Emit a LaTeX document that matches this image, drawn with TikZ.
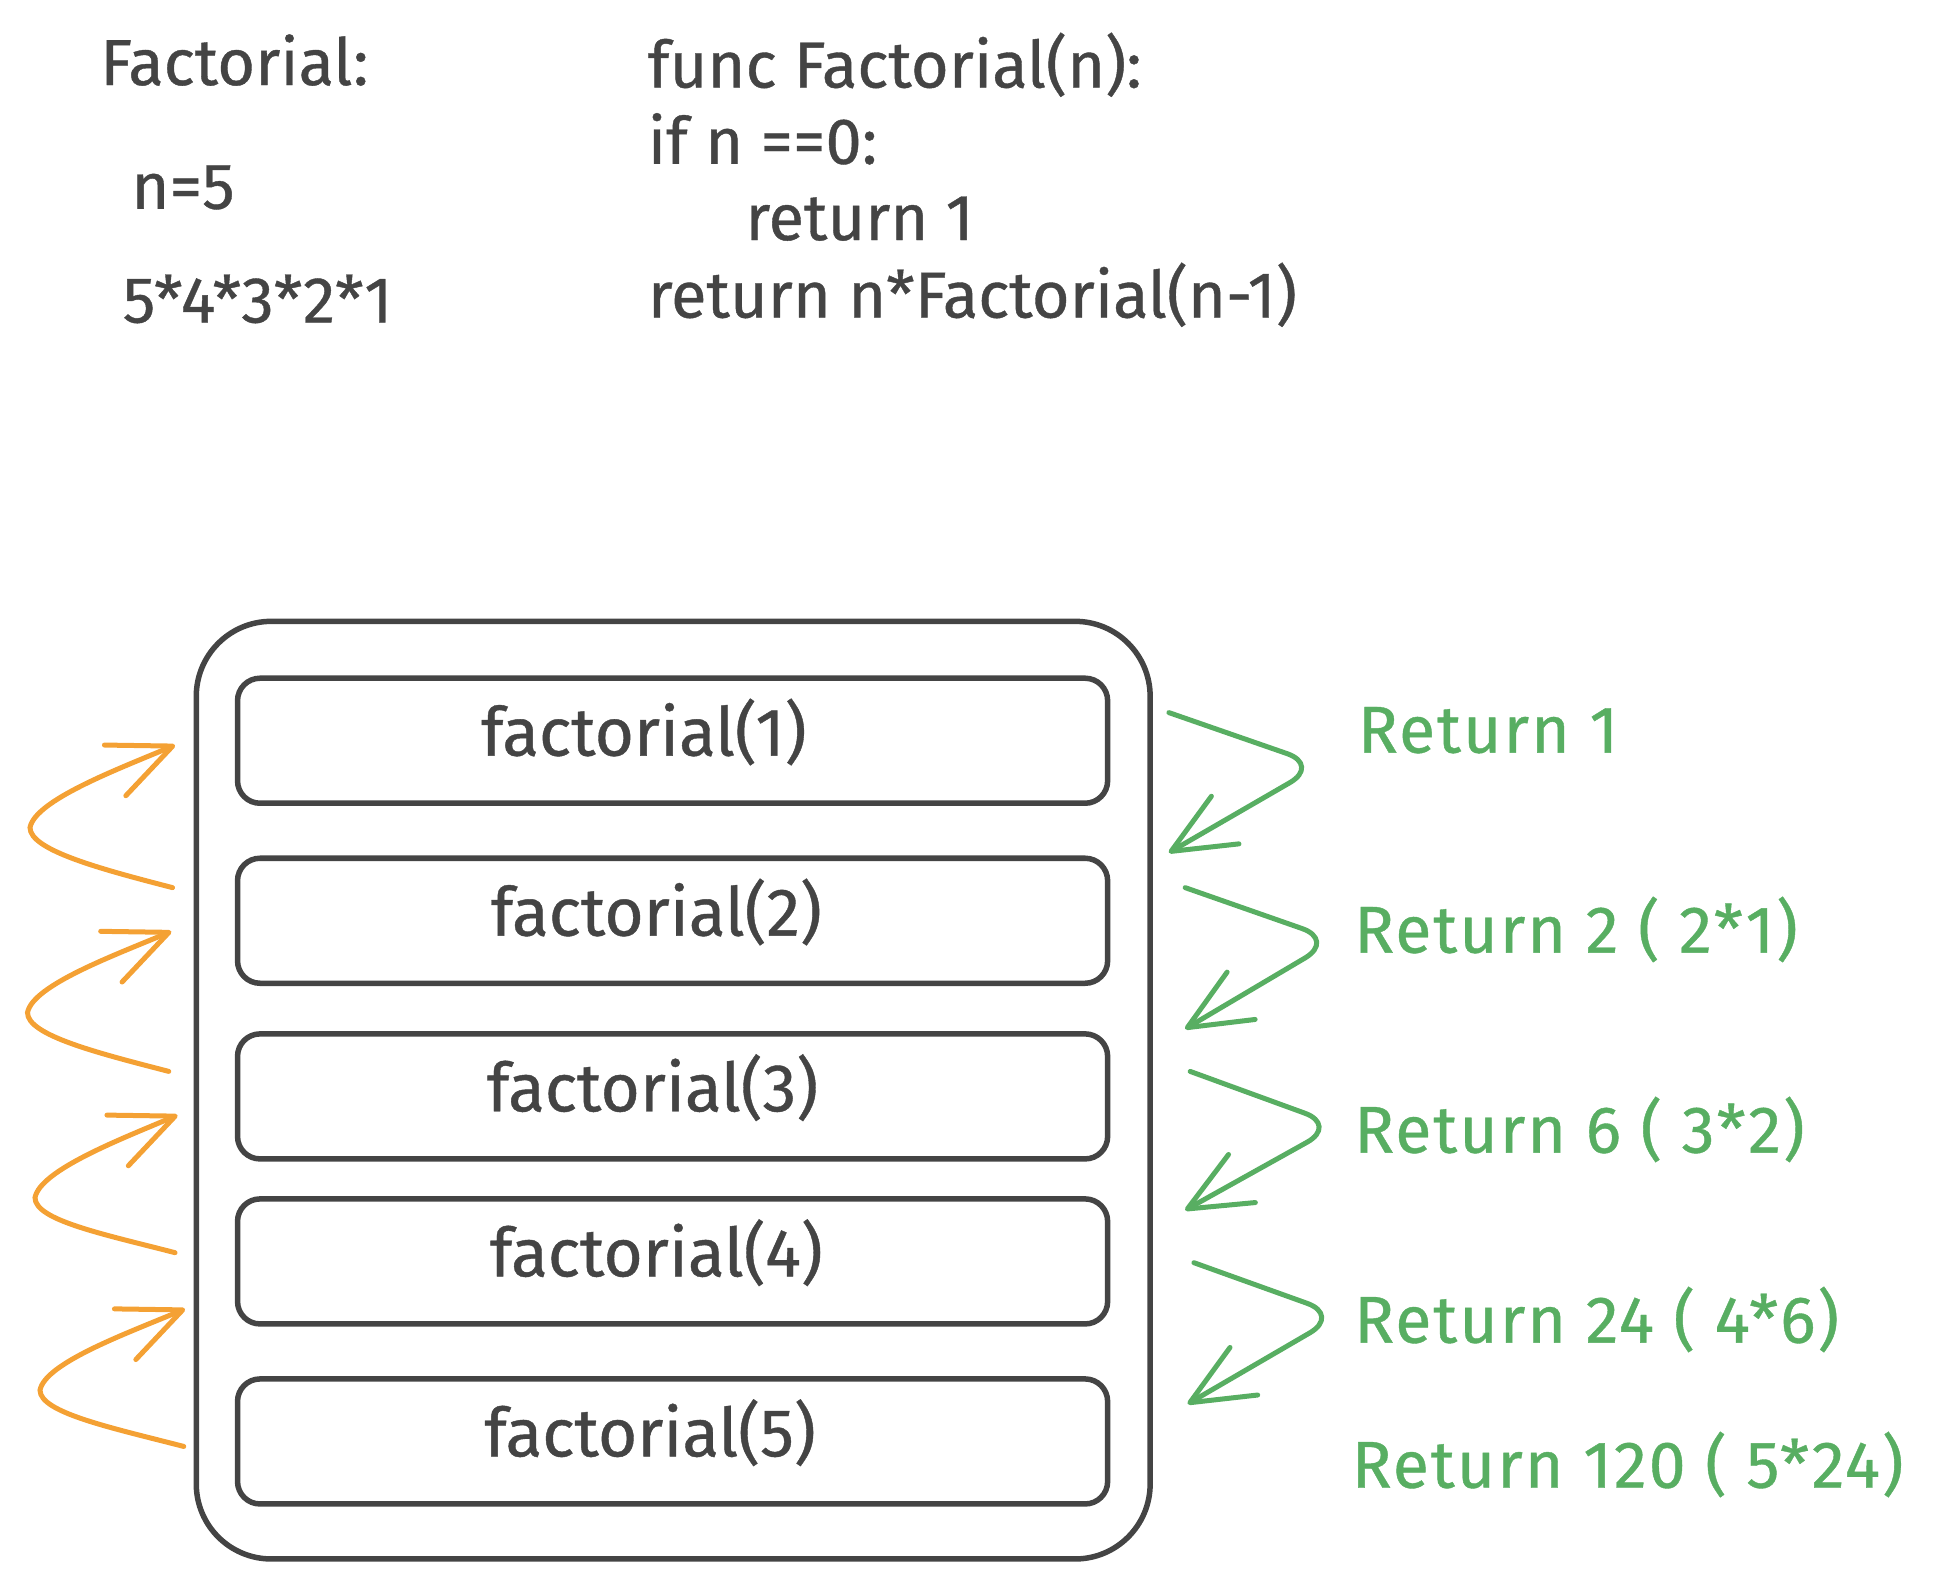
\documentclass[tikz,border=0pt]{standalone}
\usepackage{fontspec}
\setmainfont{Fira Sans}
\usetikzlibrary{arrows.meta}
\definecolor{ink}{RGB}{68,68,68}
\definecolor{grn}{RGB}{88,174,98}
\definecolor{org}{RGB}{244,161,52}
\newcommand{\calltext}[2]{\raisebox{7pt}[\height][\depth]{#1}\hspace*{#2}}
\begin{document}
\begin{tikzpicture}[x=1pt,y=-1pt,
  txt/.style={font=\fontsize{52}{60}\selectfont\addfontfeatures{FakeBold=0.6}, text=ink, inner sep=0pt, anchor=base west},
  gtxt/.style={font=\fontsize{53}{60}\selectfont\addfontfeatures{LetterSpace=3,FakeBold=0.6}, text=grn, inner sep=0pt, anchor=base west},
  callbox/.style={draw=ink, line width=4.4pt, rounded corners=18pt, minimum width=696pt, minimum height=100pt, font=\fontsize{54}{60}\selectfont\addfontfeatures{FakeBold=0.6}, text=ink, fill=white},
  stackbox/.style={draw=ink, line width=4.4pt, rounded corners=60pt, minimum width=763pt, minimum height=750pt},
  retarrow/.style={draw=grn, line width=4pt, line cap=round, line join=round, rounded corners=28pt, -{Straight Barb[length=50pt,width=44pt,round]}},
  callarrow/.style={draw=org, line width=4pt, line cap=round, -{Straight Barb[length=50pt,width=44pt,round]}}
]
\useasboundingbox (0,0) rectangle (1559,1262);

% top texts
\node[txt] (title) at (80,68) {Factorial:};
\node[txt] (nval) at (105,167) {n=5};
\node[txt] (prod) at (98,258) {5*4*3*2*1};
\node[txt] (c1) at (518,70) {func Factorial(n):};
\node[txt] (c2) at (518,131) {if n ==0:};
\node[txt] (c3) at (596,192) {return 1};
\node[txt] (c4) at (518,254) {return n*Factorial(n-1)};

% stack
\node[stackbox] (stack) at (538.5,872) {};
\node[callbox] (f1) at (538,592.5) {\calltext{factorial(1)}{46pt}};
\node[callbox] (f2) at (538,736.5) {\calltext{factorial(2)}{26pt}};
\node[callbox] (f3) at (538,877) {\calltext{factorial(3)}{32pt}};
\node[callbox] (f4) at (538,1009) {\calltext{factorial(4)}{26pt}};
\node[callbox] (f5) at (538,1153) {\calltext{factorial(5)}{36pt}};

% return labels
\node[gtxt] (r1) at (1086,602) {Return 1};
\node[gtxt] (r2) at (1083,762) {Return 2 ( 2*1)};
\node[gtxt] (r3) at (1083,922) {Return 6 ( 3*2)};
\node[gtxt] (r4) at (1083,1074) {Return 24 ( 4*6)};
\node[gtxt] (r5) at (1081,1190) {Return 120 ( 5*24)};

% green return arrows
\coordinate (gs1) at (935,570);  \coordinate (ga1) at (1056,612);  \coordinate (gt1) at (935,682);
\coordinate (gs2) at (948,710);  \coordinate (ga2) at (1068,752);  \coordinate (gt2) at (948,823);
\coordinate (gs3) at (952,857);  \coordinate (ga3) at (1070,900);  \coordinate (gt3) at (948,968);
\coordinate (gs4) at (955,1010); \coordinate (ga4) at (1072,1052); \coordinate (gt4) at (950,1123);
\foreach \i in {1,2,3,4}{
  \draw[retarrow] (gs\i) -- (ga\i) -- (gt\i);
}

% orange call arrows
\coordinate (os1) at (138,710);  \coordinate (oa1) at (24,662);  \coordinate (ot1) at (140,596);
\coordinate (os2) at (135,857);  \coordinate (oa2) at (22,810);  \coordinate (ot2) at (137,745);
\coordinate (os3) at (140,1002); \coordinate (oa3) at (28,958);  \coordinate (ot3) at (142,892);
\coordinate (os4) at (147,1157); \coordinate (oa4) at (32,1112); \coordinate (ot4) at (148,1047);
\draw[callarrow] (os1) .. controls (80,695) and (24,680) .. (oa1) .. controls (28,640) and (95,615) .. (ot1);
\draw[callarrow] (os2) .. controls (77,842) and (22,828) .. (oa2) .. controls (26,788) and (92,764) .. (ot2);
\draw[callarrow] (os3) .. controls (82,987) and (28,976) .. (oa3) .. controls (32,936) and (97,911) .. (ot3);
\draw[callarrow] (os4) .. controls (89,1142) and (32,1130) .. (oa4) .. controls (36,1090) and (103,1066) .. (ot4);
\end{tikzpicture}
\end{document}
